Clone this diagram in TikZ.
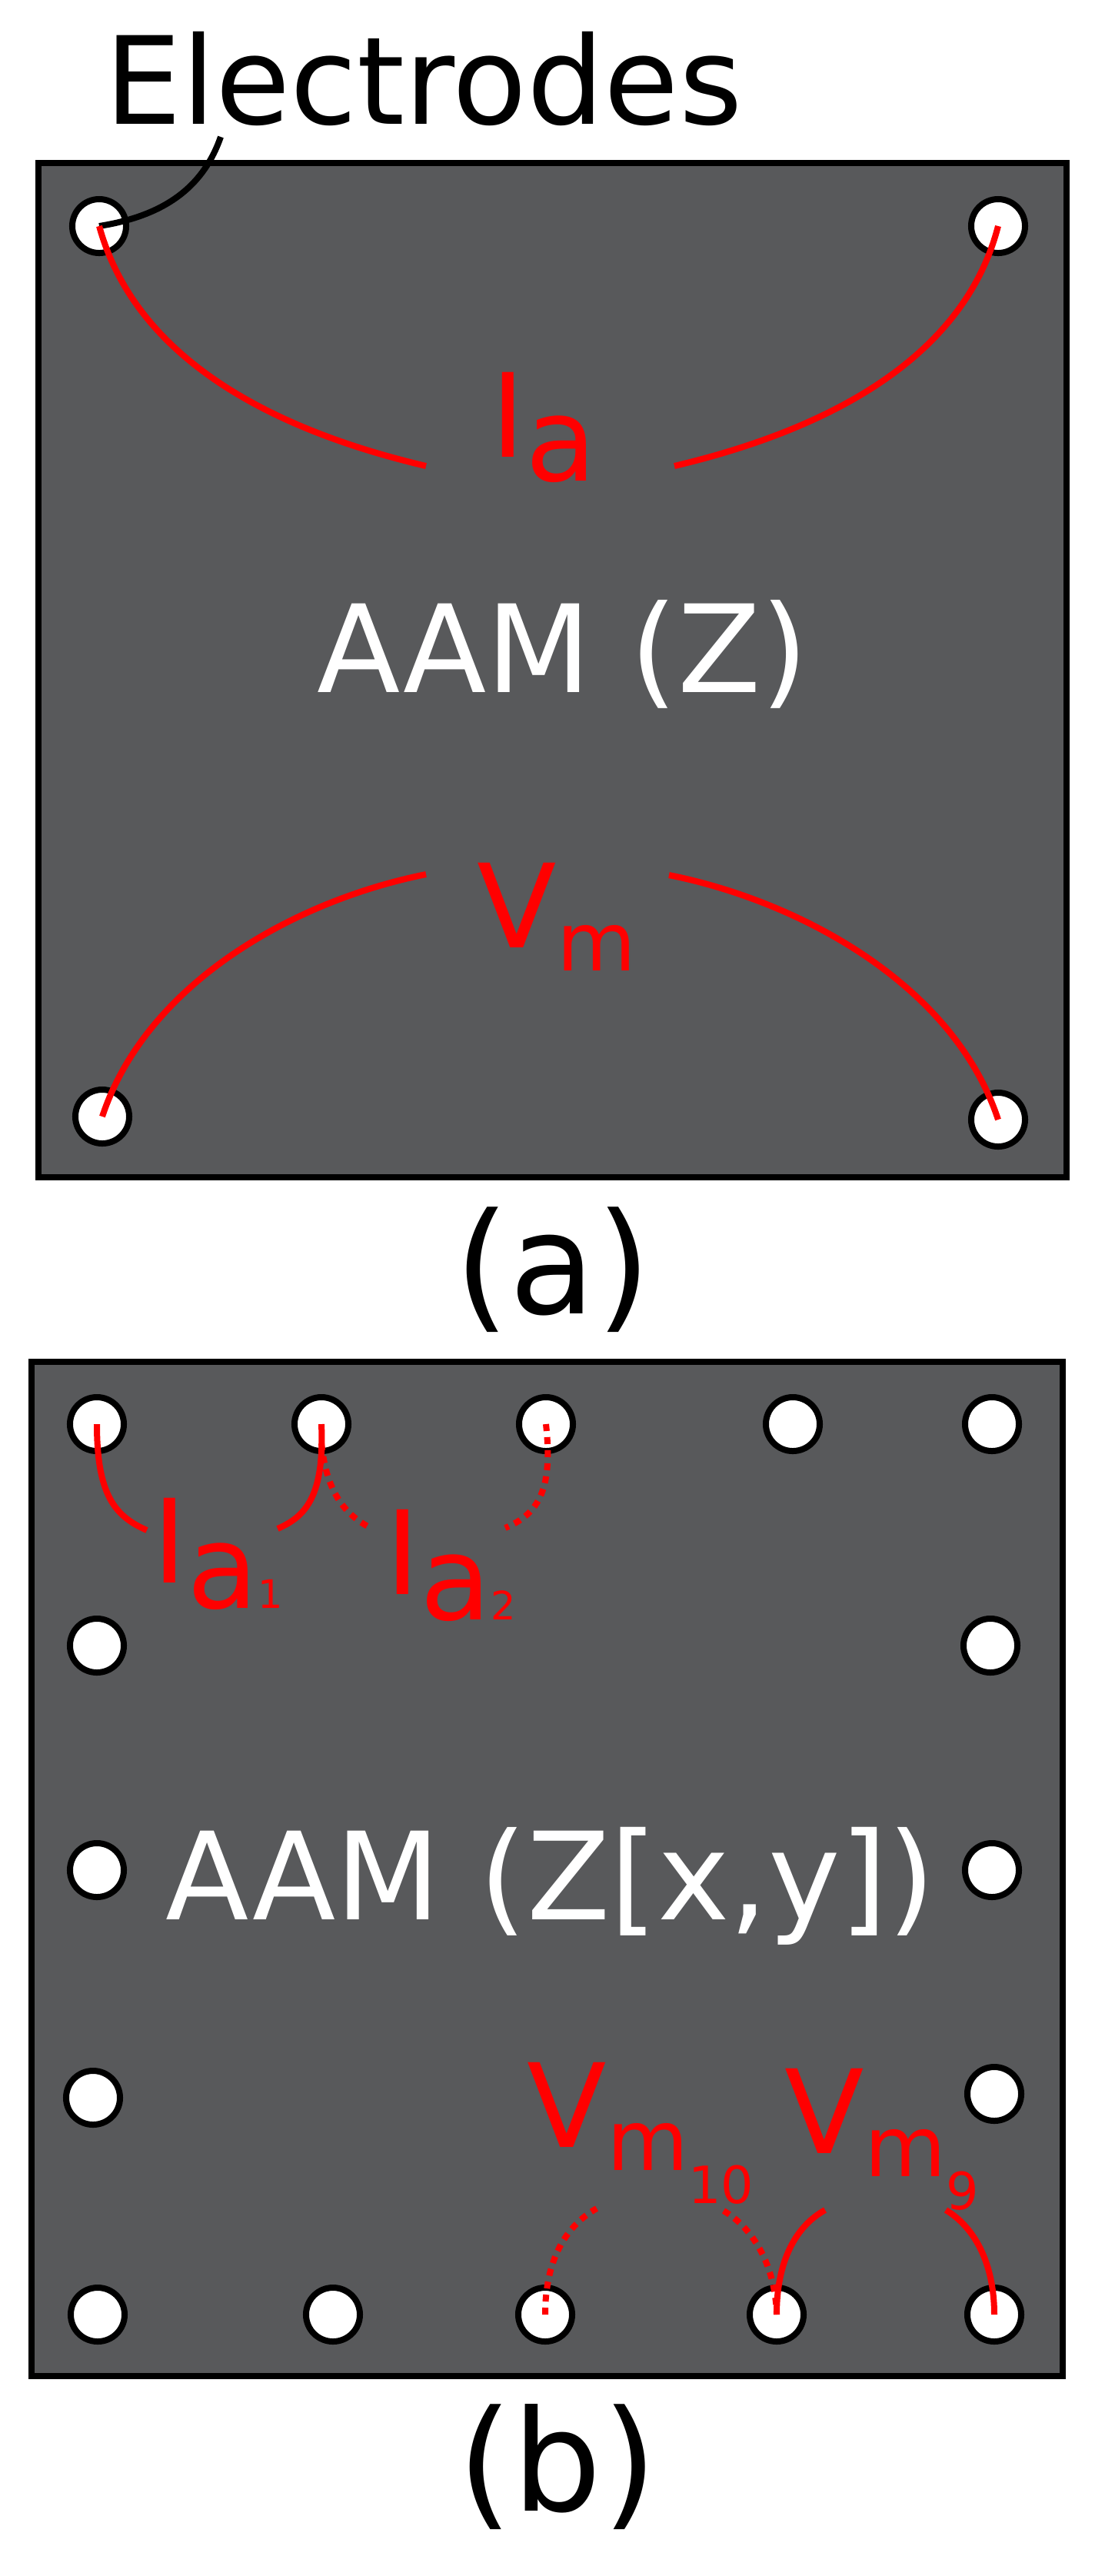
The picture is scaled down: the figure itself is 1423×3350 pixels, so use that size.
\documentclass[tikz,border=0pt]{standalone}
\usepackage{fontspec}
\setmainfont{DejaVu Sans}
\begin{document}
\begin{tikzpicture}[x=0.01cm,y=-0.01cm,
  board/.style={draw=black,fill=boardgray,line width=0.08cm},
  elec/.style={circle,draw=black,fill=white,line width=0.08cm,minimum size=0.7cm,inner sep=0pt},
  cur/.style={draw=red,line width=0.08cm},
  dcur/.style={draw=red,line width=0.08cm,dash pattern=on 0.09cm off 0.08cm},
  lbl/.style={inner sep=0pt,font=\fontsize{45}{45}\selectfont},
  rlbl/.style={inner sep=0pt,text=red,font=\fontsize{43}{43}\selectfont}]
\definecolor{boardgray}{HTML}{58595B}
\useasboundingbox (0,0) rectangle (1423,3350);
% panel a
\path[board] (50,212) rectangle (1387,1531);
\node[elec] (a1) at (129,294) {};
\node[elec] (a2) at (1298,294) {};
\node[elec] (a3) at (133,1452) {};
\node[elec] (a4) at (1298,1456) {};
\node[lbl,anchor=base] (el) at (551,161) {Electrodes};
\coordinate (elt) at (287,178);
\draw[black,line width=0.08cm] (elt) .. controls (262,250) and (205,282) .. (a1.center);
\node[rlbl,anchor=base west] (ia) at (638,594) {I\raisebox{-0.21em}{a}};
\coordinate (iaL) at (554,606); \coordinate (iaR) at (877,606);
\draw[cur] (a1.center) .. controls (180,480) and (380,565) .. (iaL);
\draw[cur] (iaR) .. controls (1050,565) and (1250,480) .. (a2.center);
\node[lbl,anchor=base,text=white] (aam) at (732,900) {AAM (Z)};
\node[rlbl,anchor=base west] (vm) at (620,1232) {V\raisebox{-0.2em}{\fontsize{30}{30}\selectfont m}};
\coordinate (vmL) at (554,1137); \coordinate (vmR) at (870,1138);
\draw[cur] (a3.center) .. controls (190,1280) and (380,1172) .. (vmL);
\draw[cur] (vmR) .. controls (1040,1172) and (1240,1280) .. (a4.center);
\node[lbl,anchor=base,font=\fontsize{52}{52}\selectfont] (capa) at (719,1708) {(a)};
% panel b
\path[board] (41,1771) rectangle (1382,3090);
\foreach \n/\x in {1/126,2/418,3/710,4/1031,5/1290} \node[elec] (t\n) at (\x,1852) {};
\foreach \n/\x in {1/127,2/433,3/709,4/1010,5/1293} \node[elec] (b\n) at (\x,3010) {};
\node[elec] (l2) at (126,2140) {};
\node[elec] (l3) at (126,2432) {};
\node[elec] (l4) at (121,2728) {};
\node[elec] (r2) at (1288,2140) {};
\node[elec] (r3) at (1290,2432) {};
\node[elec] (r4) at (1293,2723) {};
\node[lbl,anchor=base,text=white] (aamb) at (716,2496) {AAM (Z[x,y])};
\node[rlbl,anchor=base west] (ia1) at (198,2058) {I\raisebox{-0.22em}{a\fontsize{14.5}{14.5}\selectfont 1}};
\node[rlbl,anchor=base west] (ia2) at (501,2073) {I\raisebox{-0.22em}{a\fontsize{14.5}{14.5}\selectfont 2}};
\coordinate (p1) at (191,1990); \coordinate (p2) at (361,1988);
\coordinate (p3) at (484,1988); \coordinate (p4) at (657,1987);
\draw[cur] (t1.center) .. controls (126,1945) and (150,1972) .. (p1);
\draw[cur] (t2.center) .. controls (422,1945) and (398,1972) .. (p2);
\draw[dcur] ([yshift=-0.25cm]t2.center) .. controls (425,1945) and (452,1972) .. (p3);
\draw[dcur] (t3.center) .. controls (719,1935) and (702,1968) .. (p4);
\node[rlbl,anchor=base west] (vm10) at (685,2792) {V\raisebox{-0.2em}{\fontsize{31}{31}\selectfont m\raisebox{-0.4em}{\fontsize{19}{19}\selectfont 10}}};
\node[rlbl,anchor=base west] (vm9) at (1020,2800) {V\raisebox{-0.2em}{\fontsize{31}{31}\selectfont m\raisebox{-0.4em}{\fontsize{19}{19}\selectfont 9}}};
\coordinate (q1) at (776,2872); \coordinate (q2) at (941,2875);
\coordinate (q3) at (1073,2874); \coordinate (q4) at (1230,2874);
\draw[dcur] (b3.center) .. controls (709,2940) and (735,2895) .. (q1);
\draw[dcur] (q2) .. controls (975,2895) and (1008,2940) .. (b4.center);
\draw[cur] (b4.center) .. controls (1010,2940) and (1035,2895) .. (q3);
\draw[cur] (q4) .. controls (1265,2895) and (1293,2940) .. (b5.center);
\node[lbl,anchor=base,font=\fontsize{52}{52}\selectfont] (capb) at (725,3265) {(b)};
\end{tikzpicture}
\end{document}
